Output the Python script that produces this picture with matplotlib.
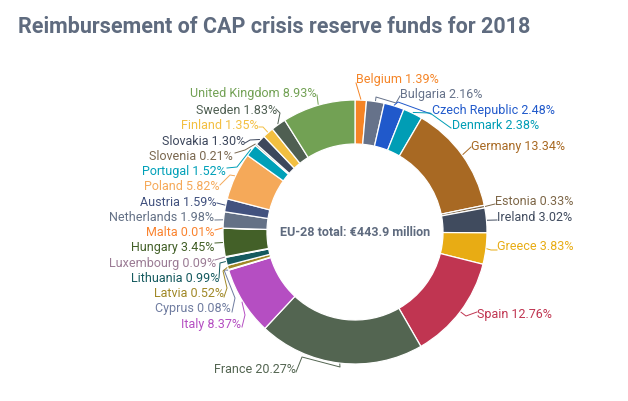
import math
import matplotlib
matplotlib.use("Agg")
import matplotlib.pyplot as plt

plt.rcParams['font.family'] = ['Roboto', 'DejaVu Sans']

countries = ["Belgium", "Bulgaria", "Czech Republic", "Denmark", "Germany", "Estonia", "Ireland",
             "Greece", "Spain", "France", "Italy", "Cyprus", "Latvia", "Lithuania", "Luxembourg",
             "Hungary", "Malta", "Netherlands", "Austria", "Poland", "Portugal", "Slovenia",
             "Slovakia", "Finland", "Sweden", "United Kingdom"]
shares = [1.39, 2.16, 2.48, 2.38, 13.34, 0.33, 3.02, 3.83, 12.76, 20.27, 8.37, 0.08, 0.52, 0.99,
          0.09, 3.45, 0.01, 1.98, 1.59, 5.82, 1.52, 0.21, 1.30, 1.35, 1.83, 8.93]
colors = ["#F58426", "#66728A", "#2059CB", "#009DB5", "#A86923", "#7D6647", "#404B5E",
          "#E8AC14", "#C03551", "#536551", "#B54EC2", "#6F7CA0", "#A08826", "#155A5F", "#9A7A94",
          "#436028", "#FA8430", "#647186", "#42527F", "#F5A959", "#00A0B8", "#7A6850",
          "#3D475C", "#F3BF41", "#4F5F52", "#72A154"]

W, H = 628, 401
CX, CY, R, RIN = 355, 232, 132, 88
TEXT_DY = 1.5

# label anchor (pixels from top-left), alignment, and connector bends
label_layout = {
    "Belgium": (356, 78, "left", [(356, 83)]),
    "Bulgaria": (400, 93, "left", [(376, 97), (396, 103), (400, 96)]),
    "Czech Republic": (432, 109, "left", [(398, 102), (431, 114)]),
    "Denmark": (452, 124, "left", [(430, 113), (451, 128)]),
    "Germany": (471, 145, "left", [(471, 147)]),
    "Estonia": (495, 200, "left", [(495, 204)]),
    "Ireland": (497, 216, "left", [(497, 220)]),
    "Greece": (497, 245, "left", [(491, 250), (497, 250)]),
    "Spain": (477, 313, "left", [(466, 316), (477, 312)]),
    "France": (296, 368, "right", [(340, 367), (302, 357), (296, 372)]),
    "Italy": (241, 323, "right", [(245, 315), (242, 327)]),
    "Cyprus": (231, 307, "right", [(224, 270), (235, 298), (232, 312)]),
    "Latvia": (224, 292, "right", [(223, 271), (227, 288), (224, 297)]),
    "Lithuania": (219, 277, "right", [(220, 263), (219, 278)]),
    "Luxembourg": (216, 262, "right", [(215, 260)]),
    "Hungary": (214, 246, "right", [(215, 243)]),
    "Malta": (214, 231, "right", [(215, 230)]),
    "Netherlands": (214, 216, "right", [(215, 220)]),
    "Austria": (217, 201, "right", [(217, 203)]),
    "Poland": (220, 185, "right", [(230, 175), (220, 185)]),
    "Portugal": (226, 170, "right", [(237, 167), (227, 168)]),
    "Slovenia": (233, 155, "right", [(245, 150), (235, 153)]),
    "Slovakia": (245, 140, "right", [(250, 140), (245, 143)]),
    "Finland": (259, 124, "right", [(263, 127), (259, 127)]),
    "Sweden": (277, 109, "right", [(280, 113), (276, 109)]),
    "United Kingdom": (316, 92, "right", [(317, 95)]),
}

fig = plt.figure(figsize=(W / 100, H / 100), dpi=100)
ax = fig.add_axes([0, 0, 1, 1])
ax.pie(shares, colors=colors, startangle=90, counterclock=False, radius=R,
       center=(CX, H - CY), wedgeprops=dict(width=R - RIN, edgecolor="white", linewidth=0.9))
ax.set_xlim(0, W)
ax.set_ylim(0, H)
ax.axis("off")

total = sum(shares)
cum = 0.0
for name, val, col in zip(countries, shares, colors):
    mid = (cum + val / 2) / total * 2 * math.pi
    cum += val
    lx, ly, ha, bends = label_layout[name]
    sx = CX + (R + 1) * math.sin(mid)
    sy = CY - (R + 1) * math.cos(mid)
    xs = [sx] + [p[0] for p in bends]
    ys = [H - sy] + [H - p[1] for p in bends]
    ax.plot(xs, ys, color=col, lw=0.7, solid_joinstyle="round")
    ax.text(lx, H - ly - TEXT_DY, f"{name} {val:.2f}%", color=col, fontsize=9, ha=ha, va="center")

ax.text(18, H - 27, "Reimbursement of CAP crisis reserve funds for 2018", color="#5F6B7F",
        fontsize=15.5, fontweight="bold", ha="left", va="center")
ax.text(355.5, H - 233, "EU-28 total: €443.9 million", color="#5F6B7F", fontsize=9,
        fontweight="bold", ha="center", va="center")

fig.savefig("out.png", dpi=100, facecolor="white")
